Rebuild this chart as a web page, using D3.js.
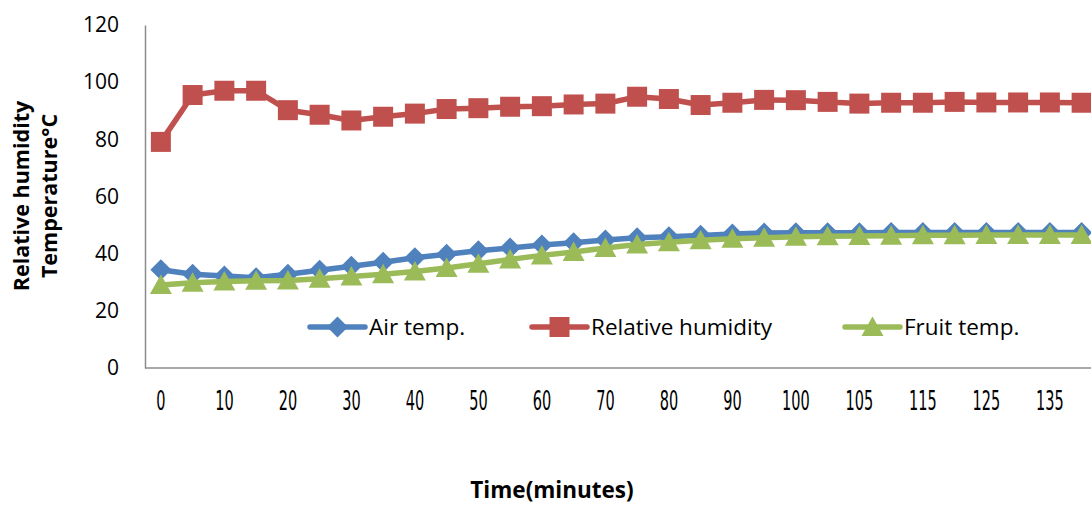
<!DOCTYPE html>
<html>
<head>
<meta charset="utf-8">
<script src="https://cdn.jsdelivr.net/npm/d3@7"></script>
<style>
  body { margin: 0; background: #fff; }
  svg { display: block; }
</style>
</head>
<body>
<div id="chart"></div>
<script>
var categories = ["0","5","10","15","20","25","30","35","40","45","50","55","60","65","70",
                  "75","80","85","90","95","100","100","105","110","115","120","125","130","135","140"];
var airTemp = [34.4,32.8,32.2,31.6,32.8,34.2,35.6,37.0,38.6,39.8,41.0,42.0,43.0,43.8,44.8,
               45.6,45.9,46.4,46.9,47.2,47.3,47.3,47.3,47.4,47.4,47.4,47.4,47.4,47.4,47.4];
var humidity = [79.1,95.5,97.0,97.0,90.2,88.6,86.6,87.9,89.0,90.6,90.9,91.4,91.6,92.2,92.5,
                94.9,94.1,92.0,92.8,93.8,93.7,93.1,92.5,92.8,92.8,93.1,92.9,92.9,92.9,92.8];
var fruitTemp = [29.0,29.8,30.3,30.5,30.6,31.2,32.0,32.8,33.8,35.0,36.5,38.0,39.4,40.6,42.0,
                 43.2,44.0,44.7,45.2,45.6,45.9,46.1,46.2,46.3,46.4,46.4,46.5,46.5,46.5,46.5];
var yTicks = [0, 20, 40, 60, 80, 100, 120];
var seriesNames = ["Air temp.", "Relative humidity", "Fruit temp."];

function init() {
    var W = 1091, H = 505;
    var left = 145, top = 25, bottom = 368, catW = 31.75;
    var font = "'Open Sans', Lato, sans-serif";

    var svg = d3.select("#chart").append("svg")
        .attr("width", W).attr("height", H);

    var idx = d3.range(categories.length);
    var xScale = d3.scaleBand().domain(idx)
        .range([left, left + catW * categories.length]);
    var yScale = d3.scaleLinear().domain([0, 120]).range([bottom, top]);
    var cx = i => xScale(i) + xScale.bandwidth() / 2;

    // y axis
    var yAxis = svg.append("g")
        .attr("transform", `translate(${left},0)`)
        .call(d3.axisLeft(yScale).tickValues(yTicks).tickSize(0).tickPadding(26));
    yAxis.select(".domain").attr("stroke", "#8c8c8c").attr("stroke-width", 1.5);
    yAxis.selectAll("text")
        .style("font-family", font)
        .style("font-size", "21px").attr("fill", "#000");

    // x axis, labels on every other category
    var xAxis = svg.append("g")
        .attr("transform", `translate(0,${bottom})`)
        .call(d3.axisBottom(xScale)
            .tickValues(idx.filter(i => i % 2 === 0))
            .tickFormat(i => categories[i])
            .tickSize(0));
    xAxis.select(".domain").attr("d", `M${left},0H${W}`)
        .attr("stroke", "#8c8c8c").attr("stroke-width", 1.5);
    xAxis.selectAll("text")
        .attr("y", 33).attr("dy", "0.35em")
        .attr("transform", "scale(0.62,1)")
        .style("font-family", "'Liberation Sans Narrow', 'DejaVu Sans Condensed', sans-serif")
        .style("font-size", "26px").attr("fill", "#000");

    var colors = ["#4f81bd", "#c0504d", "#9bbb59"];
    var data = [airTemp, humidity, fruitTemp];

    var diamond = "M0,-10.5L10.5,0L0,10.5L-10.5,0Z";
    var square = "M-10,-10H10V10H-10Z";
    var triangle = "M0,-11.5L11,8H-11Z";
    var shapes = [diamond, square, triangle];

    var line = d3.line().x((d, i) => cx(i)).y(d => yScale(d));

    data.forEach(function(values, s) {
        var g = svg.append("g");
        g.append("path").datum(values)
            .attr("d", line)
            .attr("fill", "none")
            .attr("stroke", colors[s])
            .attr("stroke-width", 5.5)
            .attr("stroke-linejoin", "round");
        g.selectAll("path.m").data(values).enter().append("path")
            .attr("class", "m")
            .attr("d", shapes[s])
            .attr("transform", (d, i) => `translate(${cx(i)},${yScale(d) + (s === 2 ? 1 : 0)})`)
            .attr("fill", colors[s]);
    });

    // legend
    var legX = [310, 532, 845];
    legX.forEach(function(x0, s) {
        var g = svg.append("g").attr("transform", `translate(${x0},327)`);
        g.append("line").attr("x1", 0).attr("x2", 55)
            .attr("stroke", colors[s]).attr("stroke-width", 5.5)
            .attr("stroke-linecap", "round");
        g.append("path").attr("d", shapes[s])
            .attr("transform", `translate(27.5,${s === 2 ? 1 : 0})`)
            .attr("fill", colors[s]);
        g.append("text").attr("x", 59).attr("dy", "0.35em")
            .style("font-family", font)
            .style("font-size", "22.5px")
            .text(seriesNames[s]);
    });

    // y axis title
    var yt = svg.append("text")
        .attr("transform", "translate(36,196) rotate(-90)")
        .attr("text-anchor", "middle")
        .style("font-family", font)
        .style("font-weight", "bold")
        .style("font-size", "21.5px");
    yt.append("tspan").attr("x", 0).attr("y", -7).text("Relative humidity");
    yt.append("tspan").attr("x", 0).attr("y", 21).text("Temperature°C");

    // x axis title
    svg.append("text")
        .attr("x", 552).attr("y", 498)
        .attr("text-anchor", "middle")
        .style("font-family", font)
        .style("font-weight", "bold")
        .style("font-size", "22.5px")
        .text("Time(minutes)");
}

window.onload = init;
</script>
</body>
</html>
